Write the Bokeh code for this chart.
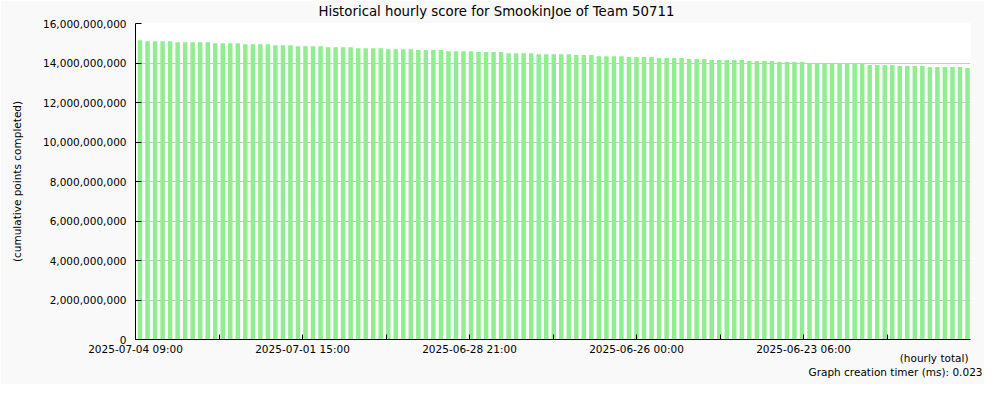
from bokeh.plotting import figure
from bokeh.models import Range1d, FixedTicker, NumeralTickFormatter, Title
from bokeh.embed import file_html
from bokeh.resources import INLINE

title_text = "Historical hourly score for SmookinJoe of Team 50711"
y_label = "(cumulative points completed)"
x_label = "(hourly total)"
footer_text = "Graph creation timer (ms): 0.023"

# labels of every second x tick (newest on the left)
tick_labels = ["2025-07-04 09:00", "2025-07-01 15:00", "2025-06-28 21:00",
               "2025-06-26 00:00", "2025-06-23 06:00"]

y_ticks = [0, 2000000000, 4000000000, 6000000000, 8000000000,
           10000000000, 12000000000, 14000000000, 16000000000]

# cumulative score per bar, in millions of points (newest first)
scores_m = [
    15157,
    15106, 15106, 15106, 15106,
    15056, 15056, 15056, 15056, 15056,
    15005, 15005, 15005, 15005,
    14955, 14955, 14955, 14955,
    14904, 14904, 14904,
    14854, 14854, 14854, 14854,
    14803, 14803, 14803, 14803,
    14753, 14753, 14753, 14753,
    14702, 14702, 14702, 14702,
    14652, 14652, 14652, 14652,
    14601, 14601, 14601, 14601,
    14551, 14551, 14551, 14551,
    14500, 14500, 14500, 14500,
    14449, 14449, 14449, 14449, 14449,
    14399, 14399, 14399,
    14348, 14348, 14348, 14348,
    14298, 14298, 14298, 14298,
    14247, 14247, 14247, 14247,
    14197, 14197, 14197,
    14146, 14146, 14146, 14146, 14146,
    14096, 14096, 14096, 14096,
    14045, 14045, 14045, 14045,
    13995, 13995, 13995, 13995,
    13944, 13944, 13944, 13944,
    13894, 13894, 13894, 13894,
    13843, 13843, 13843, 13843,
    13793, 13793, 13793, 13793, 13793,
    13742,
]

FONT = "DejaVu Sans"
n = len(scores_m)
SLOT = 10  # x units per bar slot

xs = [i * SLOT + 6 for i in range(n)]
tops = [v * 1000000 for v in scores_m]

p = figure(width=984, height=384, output_backend="svg", toolbar_location=None,
           x_range=Range1d(0, n * SLOT), y_range=Range1d(0, 16000000000),
           min_border_left=135, min_border_right=14, min_border_top=23,
           min_border_bottom=44, background_fill_color="white",
           border_fill_color="#f9f9f9", outline_line_color=None)

p.vbar(x=xs, top=tops, width=6, bottom=0, fill_color="#90ee90", line_color=None)

# x axis
tick_pos = [k * n for k in range(10)]
overrides = {}
for k, t in enumerate(tick_pos):
    overrides[t] = tick_labels[k // 2] if k % 2 == 0 else ""
p.xaxis.ticker = FixedTicker(ticks=tick_pos, minor_ticks=[])
p.xaxis.major_label_overrides = overrides
p.xaxis.major_tick_in = 5
p.xaxis.major_tick_out = 0
p.xaxis.minor_tick_in = 0
p.xaxis.minor_tick_out = 0
p.xaxis.minor_tick_line_color = None
p.xaxis.major_label_standoff = 3
p.xaxis.axis_line_color = "black"
p.xaxis.major_tick_line_color = "black"
p.xaxis.major_label_text_font = FONT
p.xaxis.major_label_text_font_size = "10.5px"
p.xaxis.major_label_text_color = "black"

# y axis
p.yaxis.ticker = FixedTicker(ticks=y_ticks, minor_ticks=[])
p.yaxis.formatter = NumeralTickFormatter(format="0,0")
p.yaxis.major_tick_in = 6
p.yaxis.major_tick_out = 0
p.yaxis.minor_tick_line_color = None
p.yaxis.major_label_standoff = 9
p.yaxis.major_label_text_font = FONT
p.yaxis.major_label_text_font_size = "10.5px"
p.yaxis.major_label_text_color = "black"
p.yaxis.axis_label = y_label
p.yaxis.axis_label_text_font = FONT
p.yaxis.axis_label_text_font_size = "10.5px"
p.yaxis.axis_label_text_font_style = "normal"
p.yaxis.axis_label_text_color = "black"
p.yaxis.axis_label_standoff = 17

p.xgrid.visible = False
p.ygrid.grid_line_color = "#c8c8c8"

p.add_layout(Title(text=title_text, align="left", offset=183, vertical_align="top",
                   standoff=5, text_font=FONT, text_font_size="13.3px",
                   text_font_style="normal", text_color="black"), "above")
p.add_layout(Title(text=x_label, align="right", offset=2, vertical_align="middle",
                   standoff=-14, text_font=FONT, text_font_size="10.5px",
                   text_font_style="normal", text_color="black"), "below")
p.add_layout(Title(text=footer_text, align="right", offset=-12, vertical_align="bottom",
                   standoff=13, text_font=FONT, text_font_size="10.5px",
                   text_font_style="normal", text_color="black"), "below")

open("out.html", "w").write(file_html(p, INLINE))
